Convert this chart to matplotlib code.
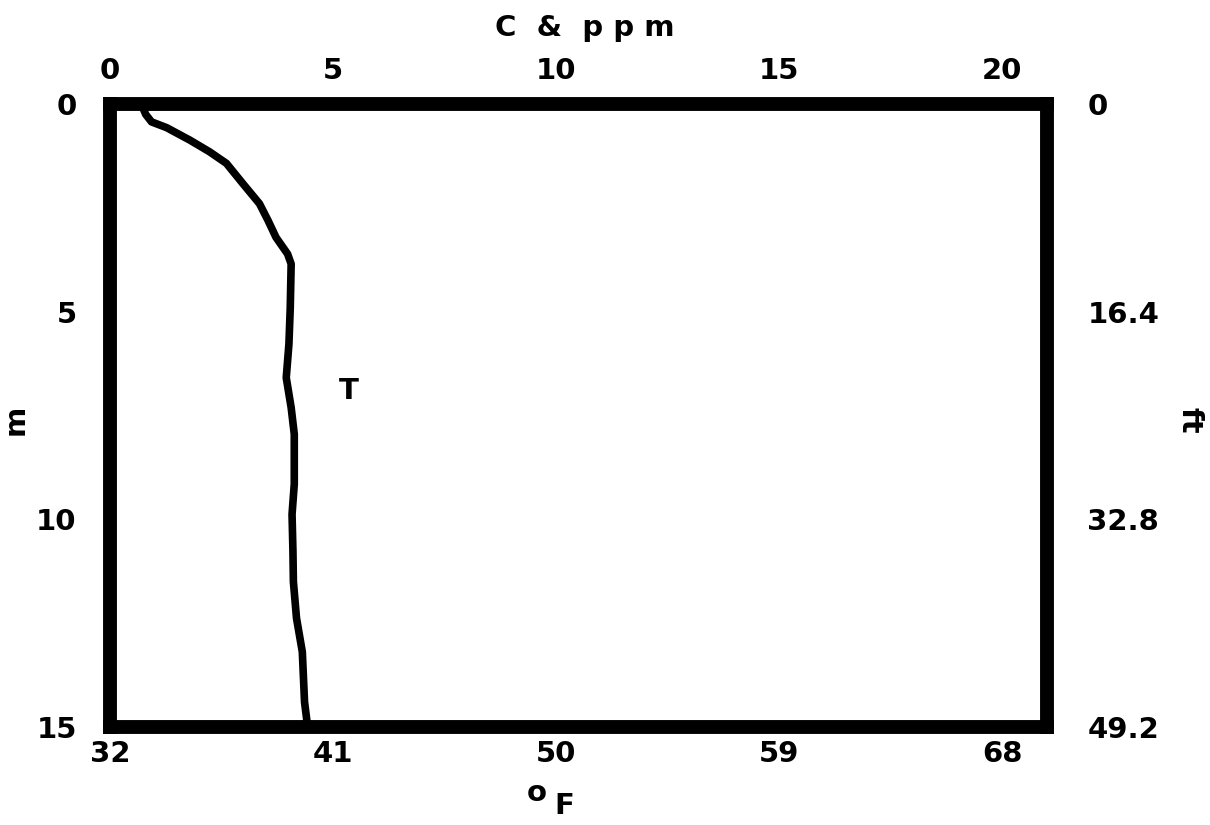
import matplotlib
matplotlib.use("Agg")
import matplotlib.pyplot as plt

# Temperature profile: depth (m) vs temperature (deg C)
temp_c = [0.70, 0.80, 0.93, 1.27, 1.79, 2.23, 2.61, 2.98, 3.35, 3.54, 3.72, 3.98, 4.06,
          4.04, 4.01, 3.95, 4.06, 4.13, 4.13, 4.08, 4.10, 4.11, 4.18, 4.31, 4.36, 4.43]
depth_m = [0.00, 0.25, 0.43, 0.57, 0.87, 1.15, 1.43, 1.92, 2.40, 2.80, 3.21, 3.61, 3.85,
           4.90, 5.78, 6.59, 7.31, 7.95, 9.15, 9.88, 10.77, 11.50, 12.38, 13.19, 14.40, 15.00]

top_ticks = [0, 5, 10, 15, 20]
bottom_ticks = [32, 41, 50, 59, 68]
left_ticks = [0, 5, 10, 15]
right_ticks = [0, 16.4, 32.8, 49.2]
right_labels = ["0", "16.4", "32.8", "49.2"]

FONT = "DejaVu Sans"
FS = 21

fig = plt.figure(figsize=(12.10, 8.25), dpi=100)
ax = fig.add_axes([110 / 1210, 1 - 727 / 825, (1047 - 110) / 1210, (727 - 104) / 825])

ax.plot(temp_c, depth_m, color="black", lw=5.5, solid_capstyle="round", solid_joinstyle="round")
ax.set_xlim(0, 21)
ax.set_ylim(15, 0)

for s in ax.spines.values():
    s.set_linewidth(10)
    s.set_color("black")

# Top axis: deg C & ppm
ax.xaxis.tick_top()
ax.set_xticks(top_ticks)
ax.set_xticklabels([str(t) for t in top_ticks], fontsize=FS, fontweight="bold", family=FONT)
ax.tick_params(axis="x", length=0, pad=14)

# Left axis: depth in metres
ax.set_yticks(left_ticks)
ax.set_yticklabels([str(t) for t in left_ticks], fontsize=FS, fontweight="bold", family=FONT)
ax.tick_params(axis="y", length=0, pad=24)

# Bottom axis: deg F
sec_x = ax.secondary_xaxis("bottom", functions=(lambda c: 32 + 1.8 * c, lambda f: (f - 32) / 1.8))
sec_x.set_xticks(bottom_ticks)
sec_x.set_xticklabels([str(t) for t in bottom_ticks], fontsize=FS, fontweight="bold", family=FONT)
sec_x.tick_params(length=0, pad=9)
sec_x.spines["bottom"].set_visible(False)

# Right axis: depth in feet
sec_y = ax.secondary_yaxis("right", functions=(lambda m: m * 3.28, lambda f: f / 3.28))
sec_y.set_yticks(right_ticks)
sec_y.set_yticklabels(right_labels, fontsize=FS, fontweight="bold", family=FONT)
sec_y.tick_params(length=0, pad=29)
sec_y.spines["right"].set_visible(False)

# Axis titles
fig.text(585 / 1210, 1 - 28 / 825, "C  &  p p m", ha="center", va="center",
         fontsize=FS, fontweight="bold", family=FONT)
fig.text(537 / 1210, 1 - 793 / 825, "o", ha="center", va="center",
         fontsize=FS, fontweight="bold", family=FONT)
fig.text(564 / 1210, 1 - 806 / 825, "F", ha="center", va="center",
         fontsize=FS, fontweight="bold", family=FONT)
fig.text(16 / 1210, 1 - 420 / 825, "m", ha="center", va="center", rotation=90,
         fontsize=FS, fontweight="bold", family=FONT)
fig.text(1190 / 1210, 1 - 420 / 825, "ft", ha="center", va="center", rotation=270,
         fontsize=FS, fontweight="bold", family=FONT)

# Curve label
ax.text(5.36, 6.9, "T", ha="center", va="center", fontsize=FS, fontweight="bold", family=FONT)

fig.savefig("out.png", dpi=100, facecolor="white")
